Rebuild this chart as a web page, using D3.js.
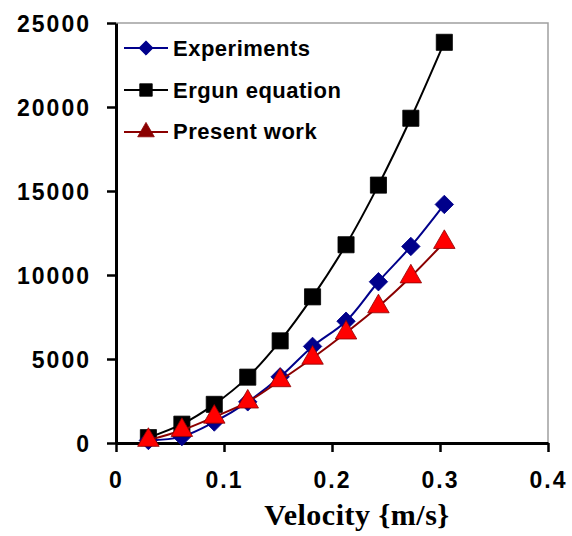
<!DOCTYPE html>
<html>
<head>
<meta charset="utf-8">
<script src="https://cdn.jsdelivr.net/npm/d3@7"></script>
<style>
    body { margin: 0; background: #fff; }
    svg { display: block; }
</style>
</head>
<body>
<svg id="chart"></svg>
<script>
const width = 572;
const height = 536;

// velocity (m/s) and pressure drop readings
const velocity = [0.030, 0.061, 0.091, 0.122, 0.152, 0.182, 0.213, 0.243, 0.273, 0.304];
const experiments = [150, 380, 1250, 2450, 3940, 5750, 7250, 9600, 11700, 14200];
const ergun = [320, 1120, 2300, 3920, 6080, 8700, 11800, 15350, 19330, 23850];
const presentWork = [170, 760, 1550, 2450, 3720, 5060, 6560, 8120, 9900, 11950];
const seriesNames = ["Experiments", "Ergun equation", "Present work"];
const xTicks = [0, 0.1, 0.2, 0.3, 0.4];
const yTicks = [0, 5000, 10000, 15000, 20000, 25000];

const x = d3.scaleLinear().domain([0, 0.4]).range([116, 548]);
const y = d3.scaleLinear().domain([0, 25000]).range([443, 23]);

const series = [
    { name: seriesNames[1], values: ergun, line: "#000000", fill: "#000000", shape: d3.symbolSquare, size: 260, rot: 0 },
    { name: seriesNames[0], values: experiments, line: "#00008b", fill: "#00008b", shape: d3.symbolSquare, size: 170, rot: 45 },
    { name: seriesNames[2], values: presentWork, line: "#8b0000", fill: "#ff0000", shape: d3.symbolTriangle, size: 200, rot: 0 }
];

const svg = d3.select("#chart")
    .attr("width", width)
    .attr("height", height);

// grey frame on top and right
svg.append("path")
    .attr("d", "M" + x(0) + "," + y(25000) + "H" + x(0.4) + "V" + y(0))
    .attr("fill", "none")
    .attr("stroke", "#a0a0a0")
    .attr("stroke-width", 1.5);

const tickFont = g => g.selectAll("text")
    .attr("font-family", "'Liberation Sans', Arial, sans-serif")
    .attr("font-weight", "bold")
    .attr("font-size", 23)
    .attr("letter-spacing", 2)
    .attr("fill", "#000");

const xAxis = svg.append("g")
    .attr("transform", "translate(0," + y(0) + ")")
    .call(d3.axisBottom(x).tickValues(xTicks).tickFormat(d3.format("")).tickSize(9).tickSizeOuter(0).tickPadding(15))
    .call(tickFont);

const yAxis = svg.append("g")
    .attr("transform", "translate(" + x(0) + ",0)")
    .call(d3.axisLeft(y).tickValues(yTicks).tickFormat(d3.format("")).tickSize(9).tickSizeOuter(0).tickPadding(16))
    .call(tickFont);

[xAxis, yAxis].forEach(a => {
    a.select(".domain").attr("stroke", "#000").attr("stroke-width", 3);
    a.selectAll(".tick line").attr("stroke", "#000").attr("stroke-width", 2.5);
});
xAxis.selectAll(".tick text").attr("dy", "0.9em");
yAxis.selectAll(".tick text").attr("dy", "0.36em");

svg.append("text")
    .attr("x", 357)
    .attr("y", 525)
    .attr("text-anchor", "middle")
    .attr("font-family", "'Liberation Serif', 'Times New Roman', serif")
    .attr("font-weight", "bold")
    .attr("font-size", 30)
    .attr("letter-spacing", 0.5)
    .text("Velocity {m/s}");

const line = d3.line()
    .x((d, i) => x(velocity[i]))
    .y(d => y(d))
    .curve(d3.curveCatmullRom.alpha(0.5));

series.forEach(s => {
    const g = svg.append("g");
    g.append("path")
        .attr("d", line(s.values))
        .attr("fill", "none")
        .attr("stroke", s.line)
        .attr("stroke-width", 2);
    g.selectAll("path.mark").data(s.values).enter()
        .append("path")
        .attr("class", "mark")
        .attr("d", d3.symbol().type(s.shape).size(s.size))
        .attr("transform", (d, i) => "translate(" + x(velocity[i]) + "," + y(d) + ") rotate(" + s.rot + ")")
        .attr("fill", s.fill)
        .attr("stroke", s.line)
        .attr("stroke-width", 0.8);
});

// legend
const legendOrder = [series[1], series[0], series[2]];
const legend = svg.append("g");

legend.selectAll("line").data(legendOrder).enter()
    .append("line")
    .attr("x1", 124)
    .attr("x2", 168)
    .attr("y1", (d, i) => 48 + i * 42)
    .attr("y2", (d, i) => 48 + i * 42)
    .attr("stroke", d => d.line)
    .attr("stroke-width", 2);

legend.selectAll("path").data(legendOrder).enter()
    .append("path")
    .attr("d", d => d3.symbol().type(d.shape).size(d.size * 0.6)())
    .attr("transform", (d, i) => "translate(146," + (48 + i * 42) + ") rotate(" + d.rot + ")")
    .attr("fill", d => d.shape === d3.symbolTriangle ? d.line : d.fill)
    .attr("stroke", d => d.line)
    .attr("stroke-width", 0.8);

legend.selectAll("text").data(legendOrder).enter()
    .append("text")
    .text(d => d.name)
    .attr("x", 173)
    .attr("y", (d, i) => 56 + i * 41.5)
    .attr("font-family", "'Liberation Sans', Arial, sans-serif")
    .attr("font-weight", "bold")
    .attr("font-size", 22)
    .attr("letter-spacing", 0.5)
    .attr("fill", "#000");
</script>
</body>
</html>
